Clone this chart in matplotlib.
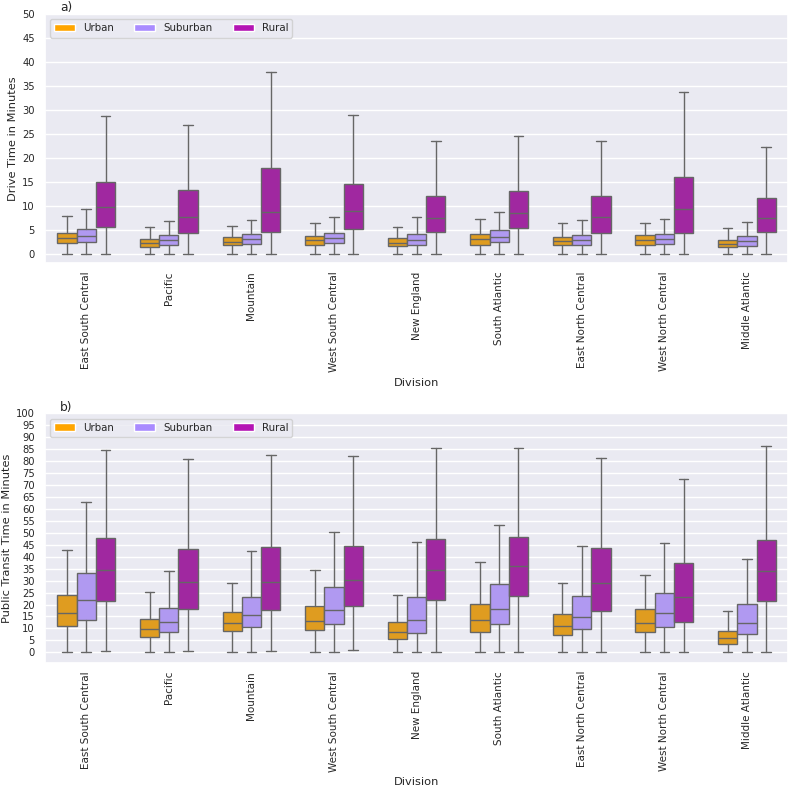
import colorsys
import matplotlib
matplotlib.use("Agg")
from matplotlib import pyplot as plt
from matplotlib.patches import Patch
import matplotlib.colors as mcolors
import seaborn as sns

divisions = ["East South Central", "Pacific", "Mountain", "West South Central", "New England",
             "South Atlantic", "East North Central", "West North Central", "Middle Atlantic"]
areas = ["Urban", "Suburban", "Rural"]
area_colors = ["#FFA500", "#A98BFF", "#B414B4"]

# per division: [whisker low, q1, median, q3, whisker high]
drive_urban = [[0, 2.3, 3.3, 4.5, 8.0], [0, 1.6, 2.3, 3.25, 5.7], [0, 1.9, 2.6, 3.5, 5.9],
               [0, 2.0, 3.0, 3.8, 6.5], [0, 1.65, 2.35, 3.3, 5.75], [0, 2.0, 3.1, 4.15, 7.3],
               [0, 1.9, 2.7, 3.6, 6.4], [0, 2.0, 2.9, 3.9, 6.6], [0, 1.4, 2.15, 3.05, 5.5]]
drive_suburban = [[0, 2.6, 3.7, 5.3, 9.4], [0, 1.9, 2.9, 3.9, 7.0], [0, 2.2, 3.1, 4.2, 7.2],
                  [0, 2.35, 3.3, 4.4, 7.8], [0, 1.95, 3.05, 4.3, 7.75], [0, 2.5, 3.6, 5.05, 8.8],
                  [0, 1.95, 3.0, 4.1, 7.2], [0, 2.15, 3.1, 4.2, 7.3], [0, 1.8, 2.7, 3.75, 6.8]]
drive_rural = [[0, 5.7, 9.9, 15.0, 28.7], [0, 4.5, 7.8, 13.4, 26.9], [0, 4.7, 8.7, 17.9, 38.0],
               [0, 5.2, 9.1, 14.7, 29.0], [0, 4.7, 7.55, 12.2, 23.5], [0, 5.55, 8.65, 13.2, 24.65],
               [0, 4.5, 7.8, 12.05, 23.5], [0, 4.4, 9.5, 16.1, 33.8], [0, 4.7, 7.6, 11.8, 22.4]]

transit_urban = [[0, 11.0, 16.4, 23.8, 42.9], [0, 6.4, 9.75, 13.9, 25.2], [0, 8.9, 12.25, 17.0, 29.2],
                 [0, 9.2, 13.1, 19.2, 34.4], [0, 5.6, 8.4, 12.7, 24.0], [0, 8.5, 13.4, 20.2, 37.9],
                 [0, 7.2, 11.0, 15.9, 29.0], [0, 8.5, 12.4, 18.1, 32.3], [0, 3.5, 5.85, 8.9, 17.5]]
transit_suburban = [[0, 13.5, 21.9, 33.3, 63.0], [0, 8.35, 12.5, 18.5, 34.0], [0, 10.6, 15.6, 23.3, 42.3],
                    [0.3, 11.8, 17.7, 27.3, 50.3], [0, 8.1, 13.5, 23.3, 46.1], [0, 11.7, 18.1, 28.4, 53.3],
                    [0, 9.6, 14.6, 23.4, 44.4], [0, 10.6, 16.4, 24.8, 45.7], [0, 7.7, 12.25, 20.1, 38.9]]
transit_rural = [[0.6, 21.6, 34.4, 47.8, 84.7], [0.6, 18.1, 29.4, 43.2, 81.1], [0.6, 17.8, 29.4, 43.9, 82.5],
                 [0.8, 19.4, 30.4, 44.7, 82.2], [0.1, 22.0, 34.4, 47.4, 85.4], [0, 23.4, 36.1, 48.3, 85.7],
                 [0, 17.1, 29.0, 43.5, 81.2], [0, 12.8, 23.1, 37.2, 72.6], [0, 21.3, 34.0, 47.2, 86.2]]


def desaturate(color, prop):
    h, l, s = colorsys.rgb_to_hls(*mcolors.to_rgb(color))
    return colorsys.hls_to_rgb(h, l, s * prop)


def draw_panel(ax, series, ylabel, ytop, title, label_x):
    width = 0.7 / len(series)
    line = dict(color="#666666", linewidth=1.0)
    for i, (rows, color) in enumerate(zip(series, area_colors)):
        stats = []
        for r in rows:
            stats.append({"whislo": r[0], "q1": r[1], "med": r[2], "q3": r[3], "whishi": r[4], "fliers": []})
        pos = [k - 0.35 + width * (i + 0.5) for k in range(len(rows))]
        ax.bxp(stats, positions=pos, widths=width, patch_artist=True, showfliers=False,
               capwidths=width / 2, manage_ticks=False,
               boxprops=dict(facecolor=desaturate(color, 0.75), edgecolor="#666666", linewidth=1.0),
               whiskerprops=line, capprops=line, medianprops=line)
    ax.set_xlim(-0.5, len(divisions) - 0.5)
    ax.set_ylim(top=ytop)
    ax.set_yticks(range(0, ytop + 1, 5))
    ax.set_xticks(range(len(divisions)))
    ax.set_xticklabels(divisions, rotation=90)
    ax.xaxis.grid(False)
    ax.set_xlabel("Division", fontsize=8.2)
    ax.set_ylabel(ylabel, fontsize=8.2)
    ax.yaxis.set_label_coords(label_x, 0.5)
    ax.tick_params(axis="x", labelsize=7.5, length=0, pad=6)
    ax.tick_params(axis="y", labelsize=7.2, length=0, pad=7.3)
    ax.set_title(title, loc="left", x=0.02, pad=2, fontsize=8.8)
    handles = [Patch(facecolor=c, label=a) for a, c in zip(areas, area_colors)]
    ax.legend(handles=handles, loc="upper left", ncol=3, fontsize=7.4)


sns.set_theme(style="darkgrid")
fig = plt.figure(figsize=(7.89, 7.86), dpi=100)
ax1 = fig.add_axes([0.057, 0.665, 0.942, 0.317])
ax2 = fig.add_axes([0.057, 0.157, 0.942, 0.317])

draw_panel(ax1, [drive_urban, drive_suburban, drive_rural], "Drive Time in Minutes", 50, "a)", -0.036)
draw_panel(ax2, [transit_urban, transit_suburban, transit_rural], "Public Transit Time in Minutes", 100, "b)", -0.045)

fig.savefig("out.png", dpi=100)
